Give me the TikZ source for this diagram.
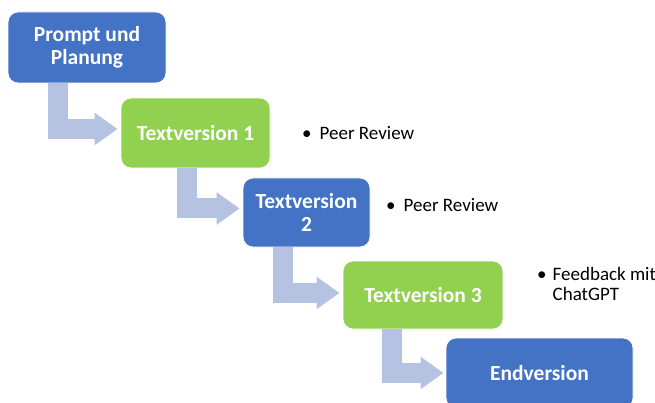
\documentclass[tikz,border=0pt]{standalone}
\usepackage{fontspec}
\setmainfont{Carlito}
\usepackage{xcolor}
\usetikzlibrary{arrows.meta,calc}
\definecolor{stepblue}{HTML}{4472C4}
\definecolor{stepgreen}{HTML}{92D050}
\definecolor{flowgray}{HTML}{B6C2E2}
\tikzset{
  stepbox/.style={rounded corners=10pt, draw=white, line width=0.8pt, text=white,
    font=\fontsize{21.5}{23}\selectfont\bfseries, align=center, inner sep=2pt},
  flow/.style={draw=flowgray, line width=20pt,
    -{Triangle[length=23pt,width=31pt,color=flowgray]}},
  note/.style={font=\fontsize{19}{20}\selectfont, inner sep=0pt}
}

\begin{document}
\begin{tikzpicture}[x=1pt,y=-1pt]
		\useasboundingbox (0,0) rectangle (655,403);
		\clip (0,0) rectangle (655,403);
		%
		\node[stepbox, fill=stepblue, minimum width=158pt, minimum height=71pt] (P) at (87,47.5) {Prompt und\\Planung};
		\node[stepbox, fill=stepgreen, minimum width=149pt, minimum height=70pt] (T1) at (195.5,133) {Textversion 1};
		\node[stepbox, fill=stepblue, minimum width=127pt, minimum height=69pt] (T2) at (306.5,212.5) {Textversion\\2};
		\node[stepbox, fill=stepgreen, minimum width=160pt, minimum height=68pt] (T3) at (423,295) {Textversion 3};
		\node[stepbox, fill=stepblue, minimum width=187pt, minimum height=70pt] (E) at (539.5,373) {Endversion};
		%
		\draw[flow] ($(P.south west)+(50.5,0)$) |- ($(T1.west)+(-3,-4)$);
		\draw[flow] ($(T1.south west)+(66,0)$) |- ($(T2.west)+(-3,-4)$);
		\draw[flow] ($(T2.south west)+(40,0)$) |- ($(T3.west)+(-3,-2)$);
		\draw[flow] ($(T3.south west)+(49,0)$) |- ($(E.west)+(-2,0)$);
		%
		\node[note, anchor=west] (R1) at (302,133) {\textbullet\hspace{8pt}Peer Review};
		\node[note, anchor=west] (R2) at (386,205) {\textbullet\hspace{8pt}Peer Review};
		\node[note, anchor=north west] (F) at (537,266) {\begin{tabular}{@{}l@{\hspace{6pt}}l@{}}\textbullet & Feedback mit\\ & ChatGPT\end{tabular}};
		\end{tikzpicture}
\end{document}
